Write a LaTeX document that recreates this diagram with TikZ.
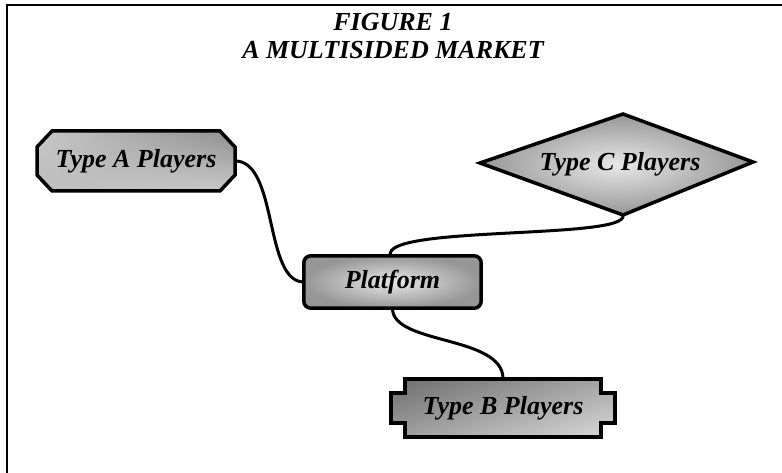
\documentclass[tikz,border=0pt]{standalone}
\usepackage{fontspec}
\setmainfont{Liberation Serif}
\usetikzlibrary{backgrounds,calc,shadings}
\definecolor{aUL}{HTML}{C8C8C8}
\definecolor{aUR}{HTML}{8E8E8E}
\definecolor{aLL}{HTML}{BDBDBD}
\definecolor{aLR}{HTML}{CACACA}
\definecolor{bUL}{HTML}{6E6E6E}
\definecolor{bUR}{HTML}{A6A6A6}
\definecolor{bLL}{HTML}{9C9C9C}
\definecolor{bLR}{HTML}{DADADA}
\definecolor{radIn}{HTML}{E8E8E8}
\definecolor{radOut}{HTML}{969696}
\begin{document}
\begin{tikzpicture}[x=1pt,y=-1pt,
  label text/.style={font=\fontsize{26}{30}\selectfont\bfseries\itshape, text=black},
  holder/.style={label text, inner sep=0pt, draw=none},
  outline/.style={draw=black, line width=3.5pt, line join=miter},
  link/.style={draw=black, line width=3pt}]
\useasboundingbox (0,0) rectangle (782,473);

% page frame (top and left rules)
\draw[line width=2.5pt] (7,473) -- (7,5) -- (782,5);

% title
\node[label text] (title1) at (393,22) {FIGURE 1};
\node[label text] (title2) at (393,50) {A MULTISIDED MARKET};

% labelled parts of the market
\node[holder, minimum width=198pt, minimum height=60pt] (A) at (136,161) {Type A Players};
\node[holder] (C) at (620,164) {Type C Players};
\node[holder, minimum width=177pt, minimum height=52pt] (P) at (392.5,282) {Platform};
\node[holder, minimum width=196pt, minimum height=58pt] (B) at (503,408) {Type B Players};

\begin{scope}[on background layer]
  % connectors
  \draw[link] (A.east) .. controls (278,161) and (264,282) .. (P.west);
  \draw[link] ([shift={(3,51)}]C.center) .. controls (630,240) and (380,225) .. ([xshift=-2pt]P.north);
  \draw[link] (P.south) .. controls (392,345) and (503,335) .. (B.north);

  % Type A: chamfered box
  \path[outline, upper left=aUL, upper right=aUR, lower left=aLL, lower right=aLR]
    ([shift={(-84,-30)}]A.center) -- ([shift={(84,-30)}]A.center)
    -- ([shift={(99,-14)}]A.center) -- ([shift={(99,14)}]A.center)
    -- ([shift={(84,30)}]A.center) -- ([shift={(-84,30)}]A.center)
    -- ([shift={(-99,14)}]A.center) -- ([shift={(-99,-14)}]A.center) -- cycle;

  % Type C: diamond
  \path[outline, inner color=radIn, outer color=radOut]
    ([shift={(-140,-1)}]C.center) -- ([shift={(3,-50)}]C.center)
    -- ([shift={(133,-2)}]C.center) -- ([shift={(3,51)}]C.center) -- cycle;

  % platform: rounded box
  \path[outline, rounded corners=7pt, inner color=radIn, outer color=radOut]
    (P.north west) rectangle (P.south east);

  % Type B: box with side tabs
  \path[outline, upper left=bUL, upper right=bUR, lower left=bLL, lower right=bLR]
    ([shift={(-98,-29)}]B.center) -- ([shift={(98,-29)}]B.center)
    -- ([shift={(98,-15)}]B.center) -- ([shift={(112,-15)}]B.center)
    -- ([shift={(112,15)}]B.center) -- ([shift={(98,15)}]B.center)
    -- ([shift={(98,29)}]B.center) -- ([shift={(-98,29)}]B.center)
    -- ([shift={(-98,15)}]B.center) -- ([shift={(-112,15)}]B.center)
    -- ([shift={(-112,-15)}]B.center) -- ([shift={(-98,-15)}]B.center) -- cycle;
\end{scope}
\end{tikzpicture}
\end{document}
